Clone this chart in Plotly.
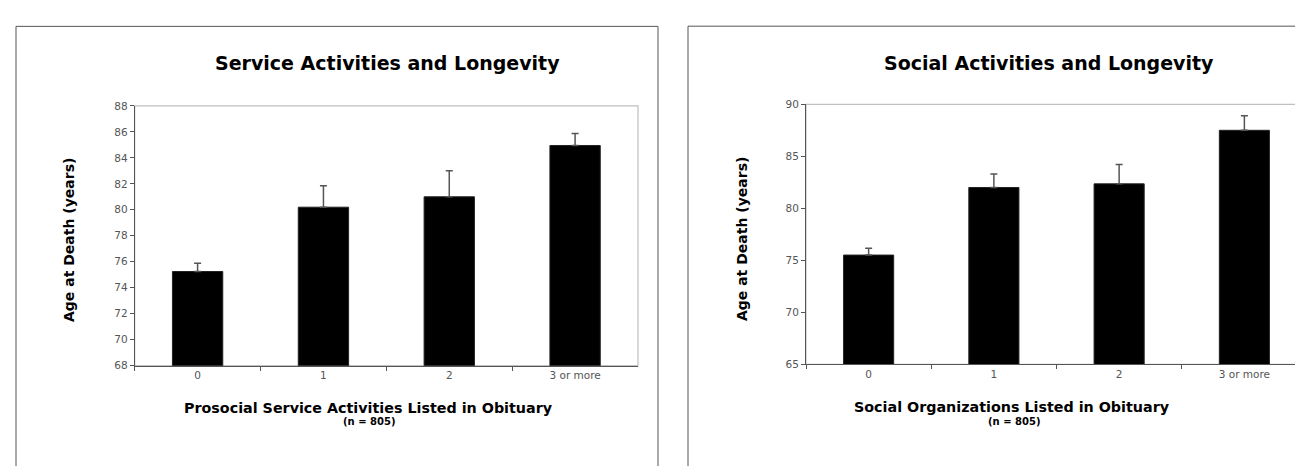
import plotly.graph_objects as go

W, H = 1303, 466

categories = ["0", "1", "2", "3 or more"]
service_age = [75.25, 80.2, 81.0, 84.95]
service_err = [0.63, 1.65, 2.0, 0.92]
social_age = [75.5, 82.0, 82.35, 87.5]
social_err = [0.65, 1.3, 1.85, 1.4]
service_ticks = [68, 70, 72, 74, 76, 78, 80, 82, 84, 86, 88]
social_ticks = [65, 70, 75, 80, 85, 90]

FONT = "DejaVu Sans"
AXIS_COL = "#555555"
TICK_COL = "#555555"


def px(x):
    return x / W


def py(y):
    return 1 - y / H


fig = go.Figure()

for vals, errs, xa, ya in [(service_age, service_err, "x", "y"),
                            (social_age, social_err, "x2", "y2")]:
    fig.add_trace(go.Bar(
        x=categories, y=vals, xaxis=xa, yaxis=ya, width=0.4,
        marker=dict(color="black", line=dict(color="#222222", width=1)),
        error_y=dict(type="data", array=errs, arrayminus=[0] * len(errs),
                     symmetric=False, color="#555555", thickness=1.5, width=3.5),
        showlegend=False,
    ))

common_x = dict(type="category", showline=True, linecolor=AXIS_COL, linewidth=1,
                ticks="outside", ticklen=4, tickcolor=AXIS_COL, tickson="boundaries",
                showgrid=False, zeroline=False,
                tickfont=dict(family=FONT, size=10.5, color=TICK_COL))
common_y = dict(showline=True, linecolor=AXIS_COL, linewidth=1,
                ticks="outside", ticklen=4, tickcolor=AXIS_COL,
                showgrid=False, zeroline=False,
                tickfont=dict(family=FONT, size=10.5, color=TICK_COL))

fig.update_layout(
    width=W, height=H,
    margin=dict(l=0, r=0, t=0, b=0),
    paper_bgcolor="white", plot_bgcolor="white",
    bargap=0.6,
    xaxis=dict(domain=[px(126.7), px(630)], anchor="y", **common_x),
    yaxis=dict(domain=[py(361), py(94.3)], anchor="x", range=[68, 88],
               tickvals=service_ticks, **common_y),
    xaxis2=dict(domain=[px(798), px(1299)], anchor="y2", **common_x),
    yaxis2=dict(domain=[py(359.5), py(92.7)], anchor="x2", range=[65, 90],
                tickvals=social_ticks, **common_y),
)

shapes = [
    # panel borders
    dict(type="rect", xref="paper", yref="paper", x0=px(8), x1=px(650),
         y0=py(480), y1=py(12.7), line=dict(color="#555555", width=1)),
    dict(type="rect", xref="paper", yref="paper", x0=px(680), x1=px(1320),
         y0=py(480), y1=py(12.5), line=dict(color="#555555", width=1)),
    # plot area light border (top/right)
    dict(type="rect", xref="x domain", yref="y domain", x0=0, x1=1, y0=0, y1=1,
         line=dict(color="#c0c0c0", width=1.2), layer="below"),
    dict(type="rect", xref="x2 domain", yref="y2 domain", x0=0, x1=1, y0=0, y1=1,
         line=dict(color="#c0c0c0", width=1.2), layer="below"),
]
fig.update_layout(shapes=shapes)

ann = []


def add_text(text, x, y, size, angle=0, bold=True, color="black"):
    ann.append(dict(text=f"<b>{text}</b>" if bold else text, x=px(x), y=py(y),
                    xref="paper", yref="paper", showarrow=False,
                    xanchor="center", yanchor="middle", textangle=angle,
                    font=dict(family=FONT, size=size, color=color)))


add_text("Service Activities and Longevity", 379, 50, 19)
add_text("Social Activities and Longevity", 1041, 50, 19)
add_text("Age at Death (years)", 61, 232, 14, angle=-90)
add_text("Age at Death (years)", 734, 231, 14, angle=-90)
add_text("Prosocial Service Activities Listed in Obituary", 360, 404, 14.3)
add_text("Social Organizations Listed in Obituary", 1004, 403, 14.3)
add_text("(n = 805)", 361, 418, 10)
add_text("(n = 805)", 1006, 418, 10)

fig.update_layout(annotations=ann)

fig.write_html("out.html")
